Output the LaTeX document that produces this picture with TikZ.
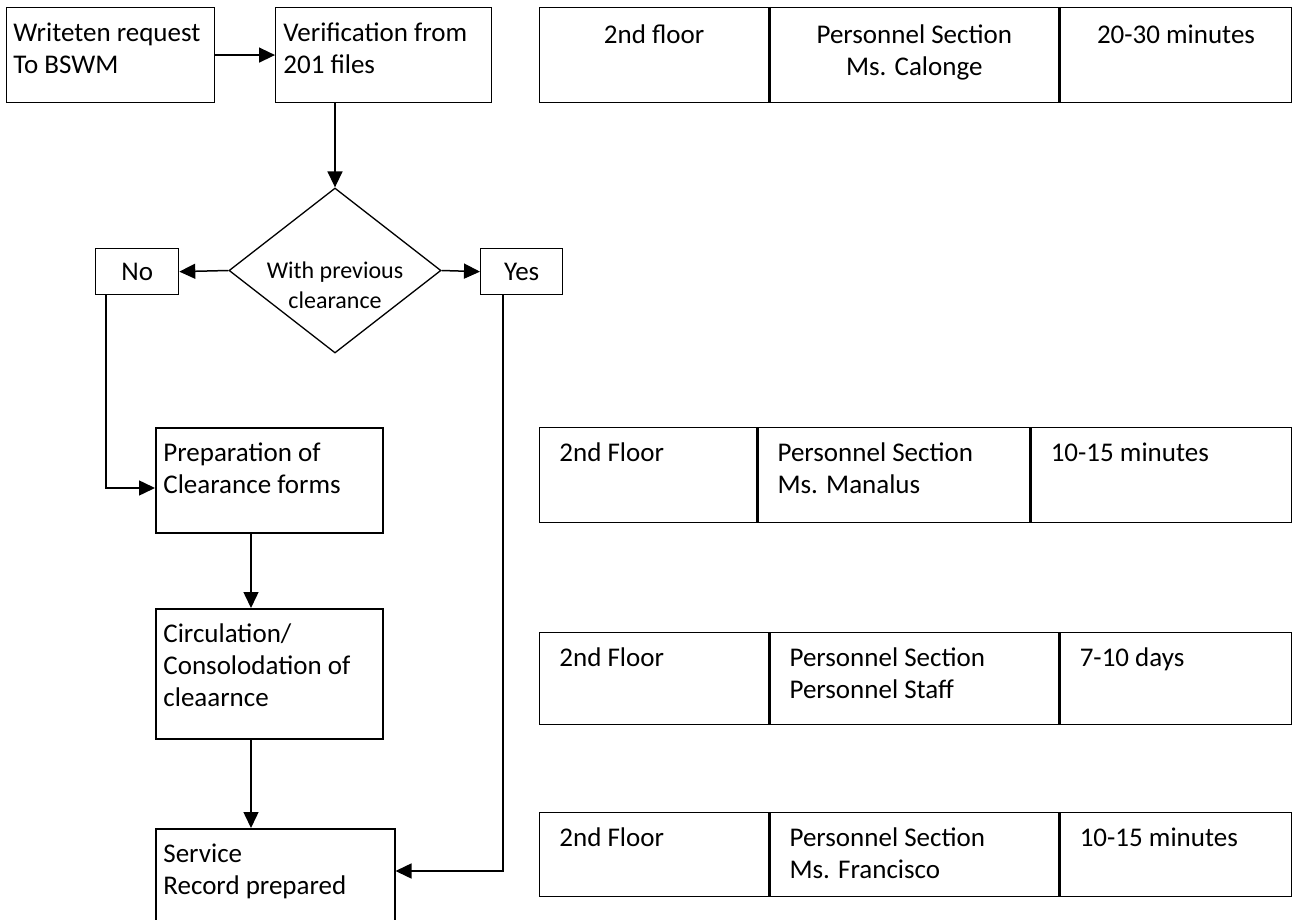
\documentclass[tikz,border=0pt]{standalone}
\usepackage{fontspec}
\setmainfont{Carlito}
\usetikzlibrary{arrows.meta,shapes.geometric}

\begin{document}
\begin{tikzpicture}
  [x=0.5pt,y=-0.5pt,
   box/.style={draw,line width=0.75pt,anchor=north west,inner sep=0pt},
   cell/.style={draw,line width=0.6pt,anchor=north west,inner sep=0pt},
   divider/.style={line width=1.6pt},
   txt/.style={anchor=north west,inner sep=0pt,align=left,font=\fontsize{13.5}{16}\selectfont},
   arr/.style={line width=0.75pt,-{Triangle[length=8pt,width=7.5pt]}}]
  \useasboundingbox (0,0) rectangle (1292,920);

  \node[box,line width=0.55pt,minimum width=104pt,minimum height=47.5pt] (req) at (6,7) {};
  \node[txt] (req-t) at ([shift={(3.5pt,-5.8pt)}]req.north west) {\strut Writeten request\\To BSWM};
  \node[box,line width=0.55pt,minimum width=108pt,minimum height=47.5pt] (verif) at (275,7) {};
  \node[txt] (verif-t) at ([shift={(4pt,-5.8pt)}]verif.north west) {\strut Verification from\\201 files};

  \node[diamond,draw,line width=0.65pt,inner sep=0pt,minimum width=106pt,minimum height=82.5pt] (dia) at (335,270.5) {};
  \node[font=\fontsize{12}{15}\selectfont,align=center,inner sep=0pt] (dia-t) at ([yshift=-7.5pt]dia.center) {With previous\\clearance};

  \node[box,line width=0.65pt,minimum width=41.5pt,minimum height=23pt,font=\fontsize{13.5}{16}\selectfont] (no) at (95,248) {No};
  \node[box,line width=0.65pt,minimum width=41pt,minimum height=23pt,font=\fontsize{13.5}{16}\selectfont] (yes) at (480,248) {Yes};

  \node[box,minimum width=113.5pt,minimum height=52.5pt] (prep) at (155,427) {};
  \node[txt] (prep-t) at ([shift={(4pt,-5.8pt)}]prep.north west) {\strut Preparation of\\Clearance forms};
  \node[box,minimum width=113.5pt,minimum height=65pt] (circ) at (155,608) {};
  \node[txt] (circ-t) at ([shift={(4pt,-5.8pt)}]circ.north west) {\strut Circulation/\\Consolodation of\\cleaarnce};
  \node[box,minimum width=119.5pt,minimum height=50pt] (serv) at (155,828) {};
  \node[txt] (serv-t) at ([shift={(4pt,-5.8pt)}]serv.north west) {\strut Service\\Record prepared};

  \draw[arr] (req.east) -- (verif.west);
  \draw[arr] (dia.north |- verif.south) -- (dia.north);
  \draw[arr] (dia.west) -- (no.east);
  \draw[arr] (dia.east) -- (yes.west);

  \coordinate (nobend) at (106,488);
  \draw[arr] (no.south -| nobend) -- (nobend) -- (prep.west |- nobend);
  \coordinate (flowx) at (251,0);
  \draw[arr] (prep.south -| flowx) -- (circ.north -| flowx);
  \draw[arr] (circ.south -| flowx) -- (serv.north -| flowx);
  \coordinate (yesbend) at (503,871);
  \draw[arr] (yes.south -| yesbend) -- (yesbend) -- (serv.east |- yesbend);

  \node[cell,minimum width=114.5pt,minimum height=47.5pt] (r1a) at (539,7) {};
  \node[cell,minimum width=144.5pt,minimum height=47.5pt] (r1b) at (r1a.north east) {};
  \node[cell,minimum width=116pt,minimum height=47.5pt] (r1c) at (r1b.north east) {};
  \draw[divider] (r1a.north east) -- (r1a.south east);
  \draw[divider] (r1b.north east) -- (r1b.south east);
  \node[txt,anchor=north,align=center] (r1a-t) at ([yshift=-6.8pt]r1a.north) {\strut 2nd floor};
  \node[txt,anchor=north,align=center] (r1b-t) at ([yshift=-6.8pt]r1b.north) {\strut Personnel Section\\Ms. Calonge};
  \node[txt,anchor=north,align=center] (r1c-t) at ([yshift=-6.8pt]r1c.north) {\strut 20-30 minutes};

  \node[cell,minimum width=108.5pt,minimum height=47.5pt] (r2a) at (539,427) {};
  \node[cell,minimum width=136pt,minimum height=47.5pt] (r2b) at (r2a.north east) {};
  \node[cell,minimum width=130.5pt,minimum height=47.5pt] (r2c) at (r2b.north east) {};
  \draw[divider] (r2a.north east) -- (r2a.south east);
  \draw[divider] (r2b.north east) -- (r2b.south east);
  \node[txt] (r2a-t) at ([shift={(10pt,-6pt)}]r2a.north west) {\strut 2nd Floor};
  \node[txt] (r2b-t) at ([shift={(10pt,-6pt)}]r2b.north west) {\strut Personnel Section\\Ms. Manalus};
  \node[txt] (r2c-t) at ([shift={(10pt,-6pt)}]r2c.north west) {\strut 10-15 minutes};

  \node[cell,minimum width=114.5pt,minimum height=46pt] (r3a) at (539,632) {};
  \node[cell,minimum width=144.5pt,minimum height=46pt] (r3b) at (r3a.north east) {};
  \node[cell,minimum width=116pt,minimum height=46pt] (r3c) at (r3b.north east) {};
  \draw[divider] (r3a.north east) -- (r3a.south east);
  \draw[divider] (r3b.north east) -- (r3b.south east);
  \node[txt] (r3a-t) at ([shift={(10pt,-6pt)}]r3a.north west) {\strut 2nd Floor};
  \node[txt] (r3b-t) at ([shift={(10pt,-6pt)}]r3b.north west) {\strut Personnel Section\\Personnel Staff};
  \node[txt] (r3c-t) at ([shift={(10pt,-6pt)}]r3c.north west) {\strut 7-10 days};

  \node[cell,minimum width=114.5pt,minimum height=42pt] (r4a) at (539,812) {};
  \node[cell,minimum width=144.5pt,minimum height=42pt] (r4b) at (r4a.north east) {};
  \node[cell,minimum width=116pt,minimum height=42pt] (r4c) at (r4b.north east) {};
  \draw[divider] (r4a.north east) -- (r4a.south east);
  \draw[divider] (r4b.north east) -- (r4b.south east);
  \node[txt] (r4a-t) at ([shift={(10pt,-6pt)}]r4a.north west) {\strut 2nd Floor};
  \node[txt] (r4b-t) at ([shift={(10pt,-6pt)}]r4b.north west) {\strut Personnel Section\\Ms. Francisco};
  \node[txt] (r4c-t) at ([shift={(10pt,-6pt)}]r4c.north west) {\strut 10-15 minutes};
\end{tikzpicture}
\end{document}
